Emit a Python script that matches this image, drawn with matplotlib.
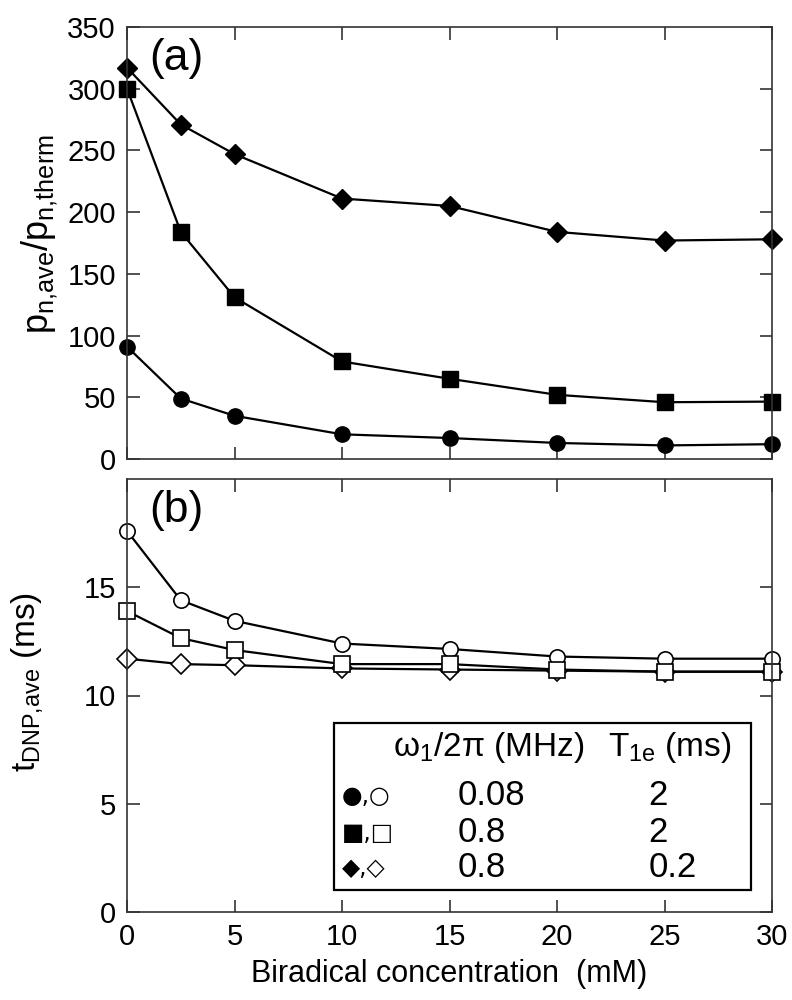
import numpy as np
import matplotlib
matplotlib.use('Agg')
import matplotlib.pyplot as plt
from matplotlib.patches import Rectangle

plt.rcParams['font.family'] = ['Liberation Sans', 'DejaVu Sans']
plt.rcParams['mathtext.fontset'] = 'custom'
plt.rcParams['mathtext.rm'] = 'Liberation Sans'
plt.rcParams['mathtext.it'] = 'Liberation Sans'

# biradical concentration (mM)
conc = [0, 2.5, 5, 10, 15, 20, 25, 30]

# (a) enhancement p_n,ave / p_n,therm
enh_008_2 = [91, 49, 35, 20, 17, 13, 11, 12]
enh_08_2 = [300, 184, 131, 79, 65, 52, 46, 46.5]
enh_08_02 = [317, 271, 247, 211, 205, 184, 177, 178]

# (b) t_DNP,ave (ms)
t_008_2 = [17.6, 14.4, 13.45, 12.4, 12.15, 11.8, 11.7, 11.7]
t_08_2 = [13.9, 12.65, 12.1, 11.45, 11.45, 11.2, 11.1, 11.1]
t_08_02 = [11.7, 11.45, 11.4, 11.25, 11.2, 11.15, 11.1, 11.1]

legend_syms = ['\u25cf,\u25cb', '\u25a0,\u25a1', '\u25c6,\u25c7']
legend_w1 = ['0.08', '0.8', '0.8']
legend_t1e = ['2', '2', '0.2']

frame_col = '#333333'


def style_axes(ax):
    for s in ax.spines.values():
        s.set_color(frame_col)
        s.set_linewidth(1.2)
    ax.tick_params(direction='in', length=9, width=1.2, color=frame_col,
                   top=True, right=True, labelsize=21, pad=8)
    ax.set_xlim(0, 30)
    ax.set_xticks([0, 5, 10, 15, 20, 25, 30])


fig = plt.figure(figsize=(7.92, 10), dpi=100)
ax1 = fig.add_axes([0.1604, 0.541, 0.8144, 0.432])
ax2 = fig.add_axes([0.1604, 0.088, 0.8144, 0.433])

# top panel
style_axes(ax1)
lw = 1.6
ax1.plot(conc, enh_008_2, '-o', color='black', lw=lw, ms=11, clip_on=False)
ax1.plot(conc, enh_08_2, '-s', color='black', lw=lw, ms=12, clip_on=False)
ax1.plot(conc, enh_08_02, '-D', color='black', lw=lw, ms=10, clip_on=False)
ax1.set_ylim(0, 350)
ax1.set_yticks(np.arange(0, 351, 50))
ax1.tick_params(labelbottom=False)
ax1.set_ylabel(r'$\mathregular{p_{n{,}ave}/p_{n{,}therm}}$', fontsize=26,
               va='center', ha='center')
ax1.yaxis.set_label_coords(-0.135, 0.52)
ax1.text(0.035, 0.975, '(a)', transform=ax1.transAxes, fontsize=32,
         va='top', ha='left')

# bottom panel
style_axes(ax2)
mk = dict(color='black', lw=lw, mfc='white', mec='black', mew=1.2, clip_on=False)
ax2.plot(conc, t_08_02, marker='D', ms=10, **mk)
ax2.plot(conc, t_008_2, marker='o', ms=11, **mk)
ax2.plot(conc, t_08_2, marker='s', ms=12, **mk)
ax2.set_ylim(0, 20)
ax2.set_yticks([0, 5, 10, 15])
ax2.set_ylabel(r'$\mathregular{t_{DNP{,}ave}}$ (ms)', fontsize=24,
               va='center', ha='center')
ax2.yaxis.set_label_coords(-0.155, 0.53)
ax2.set_xlabel('Biradical concentration  (mM)', fontsize=22, labelpad=6)
ax2.text(0.035, 0.975, '(b)', transform=ax2.transAxes, fontsize=32,
         va='top', ha='left')

# legend table
ax2.add_patch(Rectangle((0.321, 0.051), 0.646, 0.385, transform=ax2.transAxes,
                        facecolor='white', edgecolor='black', lw=1.6, zorder=5))
ax2.text(0.412, 0.381, '\u03c9$_\\mathregular{1}$/2\u03c0 (MHz)', transform=ax2.transAxes,
         fontsize=24, va='center', ha='left', zorder=6)
ax2.text(0.746, 0.381, 'T$_\\mathregular{1e}$ (ms)', transform=ax2.transAxes,
         fontsize=24, va='center', ha='left', zorder=6)
rows_y = [0.268, 0.183, 0.102]
for yy, sym, w1, t1 in zip(rows_y, legend_syms, legend_w1, legend_t1e):
    ax2.text(0.333, yy, sym, transform=ax2.transAxes, fontsize=17,
             family='DejaVu Sans', va='center', ha='left', zorder=6)
    ax2.text(0.513, yy, w1, transform=ax2.transAxes, fontsize=25,
             va='center', ha='left', zorder=6)
    ax2.text(0.808, yy, t1, transform=ax2.transAxes, fontsize=25,
             va='center', ha='left', zorder=6)

fig.savefig('out.png', dpi=100)
